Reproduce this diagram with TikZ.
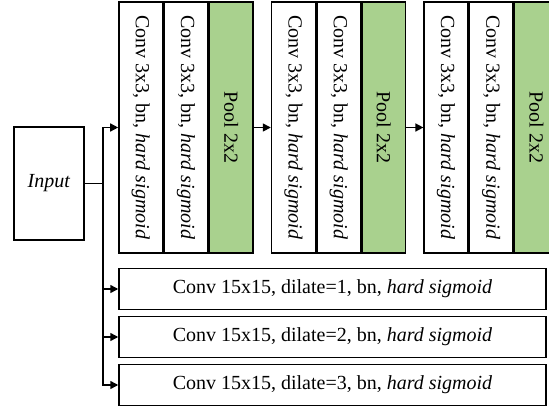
\documentclass[tikz,border=0pt]{standalone}
\usepackage{fontspec}
\setmainfont{Liberation Serif}
\usepackage{xcolor}
\usepackage{graphicx}
\usetikzlibrary{positioning}
\usetikzlibrary{arrows.meta}
\definecolor{poolgreen}{HTML}{A9D18E}

\begin{document}
\begin{tikzpicture}[x=1pt,y=-1pt,
    every node/.style={font=\fontsize{20}{24}\selectfont, line width=1.5pt, inner sep=0pt},
    layer/.style={draw, fill=white, minimum width=43.7pt, minimum height=251pt},
    pool/.style={layer, fill=poolgreen},
    wide/.style={draw, minimum width=427pt, minimum height=41pt},
    arr/.style={line width=1.5pt, -{Triangle[length=8pt,width=8pt]}}]
\begin{scope}
    \useasboundingbox (0,0) rectangle (549,407);
   	\node[draw, minimum width=70pt, minimum height=113pt] (inp) at (49,183.5) {\textit{Input}};
   	% three conv/pool blocks
   	\node[layer] (c1a) at (140.8,127.5) {\rotatebox{-90}{Conv 3x3, bn, \textit{hard sigmoid}}};
   	\node[layer, right=0pt of c1a] (c1b) {\rotatebox{-90}{Conv 3x3, bn, \textit{hard sigmoid}}};
   	\node[pool, right=0pt of c1b] (p1) {\rotatebox{-90}{Pool 2x2}};
   	\node[layer, right=17pt of p1] (c2a) {\rotatebox{-90}{Conv 3x3, bn, \textit{hard sigmoid}}};
   	\node[layer, right=0pt of c2a] (c2b) {\rotatebox{-90}{Conv 3x3, bn, \textit{hard sigmoid}}};
   	\node[pool, right=0pt of c2b] (p2) {\rotatebox{-90}{Pool 2x2}};
   	\node[layer, right=17pt of p2] (c3a) {\rotatebox{-90}{Conv 3x3, bn, \textit{hard sigmoid}}};
   	\node[layer, right=0pt of c3a] (c3b) {\rotatebox{-90}{Conv 3x3, bn, \textit{hard sigmoid}}};
   	\node[pool, right=0pt of c3b] (p3) {\rotatebox{-90}{Pool 2x2}};
   	% dilated branches
   	\node[wide] (d1) at (332.5,289) {Conv 15x15, dilate=1, bn, \textit{hard sigmoid}};
   	\node[wide] (d2) at (332.5,337) {Conv 15x15, dilate=2, bn, \textit{hard sigmoid}};
   	\node[wide] (d3) at (332.5,385) {Conv 15x15, dilate=3, bn, \textit{hard sigmoid}};
   	\coordinate (bus) at (103,183.5);
    \draw[line width=1.5pt] (inp.east) -- (bus);
    \draw[arr] (bus) |- (c1a.west);
    \draw[arr] (bus) |- (d1.west);
    \draw[arr] (bus) |- (d2.west);
    \draw[arr] (bus) |- (d3.west);
    \draw[arr] (p1.east) -- (c2a.west);
    \draw[arr] (p2.east) -- (c3a.west);
\end{scope}
\end{tikzpicture}
\end{document}
